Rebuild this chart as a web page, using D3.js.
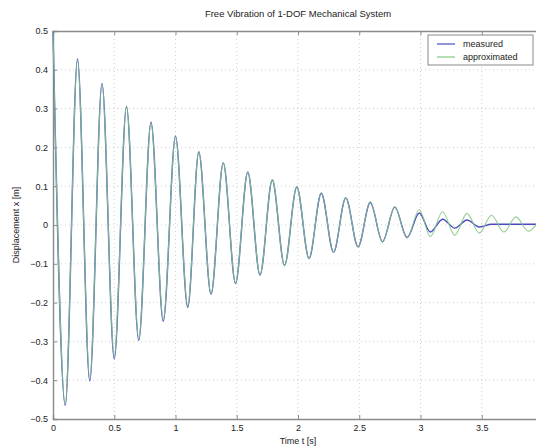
<!DOCTYPE html>
<html>
<head>
<meta charset="utf-8">
<script src="https://cdn.jsdelivr.net/npm/d3@7"></script>
<style>
  body { margin: 0; background: #fff; }
  text { font-family: "Liberation Sans", Arial, sans-serif; fill: #222; }
</style>
</head>
<body>
<svg id="chart" width="536" height="447"></svg>
<script>
// extrema of the oscillation (time in s, displacement in m)
var extremaTime = [0, 0.10, 0.20, 0.30, 0.40, 0.50, 0.60, 0.70, 0.80, 0.90,
    1.00, 1.10, 1.19, 1.29, 1.39, 1.49, 1.59, 1.69, 1.79, 1.89,
    1.99, 2.09, 2.19, 2.29, 2.39, 2.49, 2.59, 2.69, 2.79, 2.89,
    2.99, 3.08, 3.18, 3.28, 3.38, 3.48, 3.58, 3.68, 3.78, 3.88, 3.98];
var approximated = [0.50, -0.46, 0.425, -0.395, 0.362, -0.338, 0.307, -0.293, 0.262, -0.243,
    0.227, -0.208, 0.19, -0.177, 0.16, -0.149, 0.137, -0.128, 0.117, -0.105,
    0.099, -0.086, 0.083, -0.07, 0.07, -0.057, 0.06, -0.044, 0.047, -0.034,
    0.040, -0.030, 0.034, -0.026, 0.030, -0.021, 0.025, -0.018, 0.021, -0.016, 0.019];
var measured = [0.50, -0.465, 0.428, -0.402, 0.365, -0.345, 0.305, -0.297, 0.265, -0.248,
    0.229, -0.212, 0.188, -0.178, 0.16, -0.15, 0.136, -0.129, 0.116, -0.104,
    0.098, -0.086, 0.082, -0.07, 0.07, -0.056, 0.058, -0.043, 0.046, -0.032,
    0.031, -0.018, 0.015, -0.008, 0.013, -0.005, 0.002, 0.002, 0.002, 0.002, 0.002];

var xTicks = [0, 0.5, 1, 1.5, 2, 2.5, 3, 3.5];
var yTicks = [0.5, 0.4, 0.3, 0.2, 0.1, 0, -0.1, -0.2, -0.3, -0.4, -0.5];
var seriesNames = ['measured', 'approximated'];
var seriesColors = ['#4a4ac4', '#82c882'];

var svg = d3.select('#chart');
var plotLeft = 53, plotRight = 543, plotTop = 31, plotBottom = 419;

var x = d3.scaleLinear().domain([0, 4]).range([plotLeft, plotRight]);
var y = d3.scaleLinear().domain([-0.5, 0.5]).range([plotBottom, plotTop]);

// grid
svg.append('g').selectAll('line').data(xTicks.slice(1)).join('line')
    .attr('x1', d => x(d)).attr('x2', d => x(d))
    .attr('y1', plotTop).attr('y2', plotBottom)
    .attr('stroke', '#cfcfcf').attr('stroke-dasharray', '1,3');
svg.append('g').selectAll('line').data(yTicks.slice(1, -1)).join('line')
    .attr('x1', plotLeft).attr('x2', plotRight)
    .attr('y1', d => y(d)).attr('y2', d => y(d))
    .attr('stroke', '#cfcfcf').attr('stroke-dasharray', '1,3');

// axes
var xAxis = d3.axisBottom(x).tickValues(xTicks).tickSize(-4).tickPadding(6)
    .tickFormat(d3.format('~g'));
var gx = svg.append('g').attr('transform', 'translate(0,' + plotBottom + ')').call(xAxis);
var xTop = d3.axisTop(x).tickValues(xTicks).tickSize(-4).tickFormat('');
var gxt = svg.append('g').attr('transform', 'translate(0,' + plotTop + ')').call(xTop);
var yAxis = d3.axisLeft(y).tickValues(yTicks).tickSize(-4).tickPadding(5)
    .tickFormat(d3.format('~g'));
var gy = svg.append('g').attr('transform', 'translate(' + plotLeft + ',0)').call(yAxis);

[gx, gxt, gy].forEach(function (g) {
    g.select('.domain').attr('stroke', '#8a8a8a').attr('stroke-width', 1.4);
    g.selectAll('.tick line').attr('stroke', '#8a8a8a');
    g.selectAll('.tick text').attr('font-size', 9).attr('fill', '#222')
        .attr('font-family', '"Liberation Sans", Arial, sans-serif');
});

// curves: measured underneath, approximated on top
var line = function (values) {
    return d3.line()
        .x((d, i) => x(extremaTime[i]))
        .y(d => y(d))
        .curve(d3.curveMonotoneX)(values);
};
svg.append('path').attr('d', line(measured))
    .attr('fill', 'none').attr('stroke', seriesColors[0]).attr('stroke-width', 1.4);
svg.append('path').attr('d', line(approximated))
    .attr('fill', 'none').attr('stroke', seriesColors[1]).attr('stroke-width', 1.1)
    .attr('stroke-opacity', 0.85);

// titles
svg.append('text').attr('x', 298).attr('y', 17).attr('text-anchor', 'middle')
    .attr('font-size', 9.5).text('Free Vibration of 1-DOF Mechanical System');
svg.append('text').attr('x', 298).attr('y', 444).attr('text-anchor', 'middle')
    .attr('font-size', 9).text('Time t [s]');
svg.append('text').attr('transform', 'translate(19,' + y(0) + ') rotate(-90)')
    .attr('text-anchor', 'middle').attr('font-size', 9).text('Displacement x [m]');

// legend
var legend = svg.append('g').attr('transform', 'translate(428,35)');
legend.append('rect').attr('width', 105).attr('height', 30)
    .attr('fill', '#fff').attr('stroke', '#8a8a8a');
seriesNames.forEach(function (name, i) {
    legend.append('line').attr('x1', 9).attr('x2', 27)
        .attr('y1', 9 + i * 13).attr('y2', 9 + i * 13)
        .attr('stroke', seriesColors[i]).attr('stroke-width', 1.2);
    legend.append('text').attr('x', 35).attr('y', 12 + i * 13)
        .attr('font-size', 9).text(name);
});
</script>
</body>
</html>
